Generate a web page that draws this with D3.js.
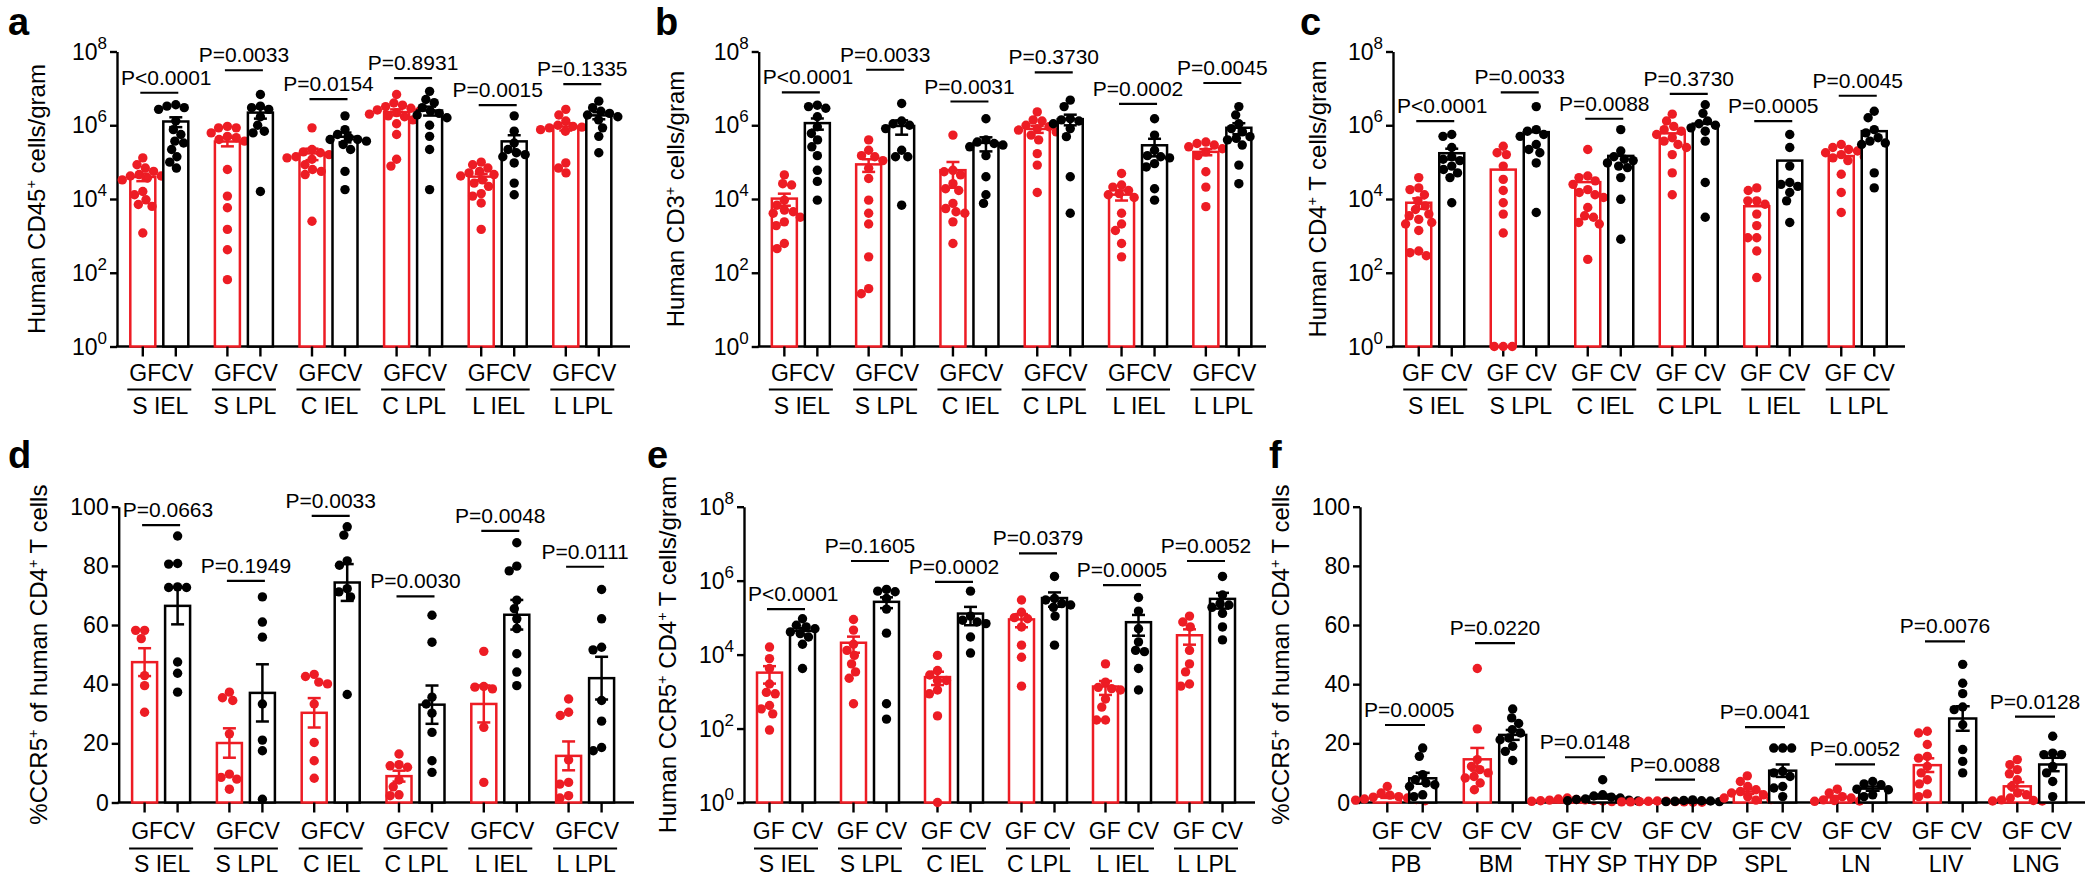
<!DOCTYPE html>
<html><head><meta charset="utf-8">
<script src="https://cdn.jsdelivr.net/npm/d3@7"></script>
<style>
body{margin:0;background:#fff}
svg{display:block}
text{font-family:Arial,"Liberation Sans",Helvetica,sans-serif;fill:#000}
</style>
</head><body>
<svg id="chart" width="2100" height="886"></svg>
<script>
// ---------------- DATA ----------------
const gutGroups = ["S IEL","S LPL","C IEL","C LPL","L IEL","L LPL"];
const tissueGroups = ["PB","BM","THY SP","THY DP","SPL","LN","LIV","LNG"];
const logTickExps = [0,2,4,6,8];
const pctTicks = [0,20,40,60,80,100];

// Panel a: Human CD45+ cells/gram
const aGF = [
  [1.3e5,8.5e4,6.9e4,5.6e4,4.6e4,4.2e4,4.2e4,3.7e4,3.3e4,1.6e4,1.3e4,9.5e3,7.1e3,6.3e3,1.2e3],
  [9.3e5,8.5e5,8.5e5,6.2e5,5.0e5,4.6e5,4.1e5,3.7e5,6.3e4,1.2e4,5.8e3,1.5e3,4.2e2,65],
  [8.5e5,2.2e5,1.9e5,1.8e5,1.6e5,1.4e5,1.3e5,1.2e5,8.5e4,6.3e4,5.6e4,4.6e4,2.5e3],
  [6.8e6,4.0e6,3.5e6,3.2e6,2.9e6,2.6e6,2.4e6,2.2e6,2.0e6,1.8e6,1.7e6,1.4e6,1.1e6,5.6e5,1.2e5,7.8e4],
  [1.0e5,8.5e4,6.9e4,5.6e4,5.1e4,4.6e4,4.2e4,3.3e4,2.7e4,2.2e4,1.4e4,1.2e4,7.8e3,1.5e3],
  [2.7e6,1.9e6,1.3e6,1.0e6,9.3e5,8.9e5,8.5e5,7.9e5,7.6e5,6.9e5,9.5e4,6.9e4,5.1e4]
];
const aCV = [
  [3.6e6,3.3e6,3.0e6,2.7e6,1.3e6,7.6e5,5.6e5,3.7e5,3.3e5,2.2e5,1.4e5,1.0e5,6.9e4],
  [6.8e6,3.3e6,3.0e6,2.7e6,1.7e6,1.0e6,6.9e5,6.2e5,1.6e4],
  [1.8e6,7.6e5,5.6e5,4.6e5,4.1e5,4.1e5,3.7e5,3.0e5,2.2e5,5.6e4,1.8e4],
  [8.3e6,5.0e6,4.1e6,3.0e6,2.4e6,2.1e6,1.9e6,1.6e6,1.0e6,5.0e5,2.2e5,1.8e4],
  [1.8e6,6.9e5,3.3e5,2.2e5,1.8e5,1.6e5,1.4e5,9.5e4,2.7e4,1.3e4],
  [4.5e6,3.0e6,2.4e6,2.1e6,1.9e6,1.7e6,1.4e6,8.5e5,5.0e5,1.8e5]
];
const aP = ["P<0.0001","P=0.0033","P=0.0154","P=0.8931","P=0.0015","P=0.1335"];
const aPLevel = [7.6e6,3.1e7,5.1e6,1.9e7,3.5e6,1.3e7];

// Panel b: Human CD3+ cells/gram
const bGF = [
  [4.5e4,2.6e4,2.4e4,9.3e3,6.8e3,5.0e3,4.5e3,4.1e3,3.2e3,2.4e3,1.9e3,6.2e2,4.5e2],
  [4.0e5,2.1e5,1.5e5,1.4e5,1.1e5,6.8e4,3.6e4,9.3e3,4.1e3,2.1e3,2.7e2,37,27],
  [5.4e5,6.0e4,5.5e4,4.5e4,2.6e4,1.9e4,1.7e4,7.6e3,5.5e3,4.5e3,4.1e3,2.4e3,6.2e2],
  [2.3e6,1.4e6,1.3e6,1.0e6,9.1e5,8.1e5,7.4e5,6.6e5,5.4e5,4.0e5,1.7e5,8.3e4,1.5e4],
  [4.9e4,2.4e4,2.1e4,1.7e4,1.4e4,1.3e4,1.1e4,4.1e3,2.1e3,1.4e3,6.2e2,2.7e2],
  [3.5e5,3.2e5,2.9e5,2.6e5,2.3e5,2.1e5,1.9e5,1.5e5,5.5e4,2.1e4,6.2e3]
];
const bCV = [
  [3.5e6,3.2e6,2.9e6,1.7e6,9.1e5,6.0e5,4.0e5,2.6e5,1.5e5,6.0e4,3.0e4,9.3e3],
  [3.9e6,1.3e6,1.1e6,1.0e6,8.1e5,2.1e5,1.4e5,1.4e5,6.8e3],
  [1.5e6,4.0e5,3.5e5,3.2e5,2.9e5,2.6e5,1.5e5,4.0e4,1.3e4,7.6e3],
  [4.8e6,3.2e6,1.5e6,1.4e6,1.3e6,1.1e6,8.1e5,4.9e5,4.0e4,4.1e3],
  [1.5e6,5.4e5,2.1e5,1.5e5,1.4e5,1.3e5,9.1e4,7.4e4,1.9e4,9.3e3],
  [3.2e6,1.9e6,1.1e6,8.1e5,6.6e5,4.9e5,4.4e5,4.0e5,2.9e5,8.3e4,2.6e4]
];
const bP = ["P<0.0001","P=0.0033","P=0.0031","P=0.3730","P=0.0002","P=0.0045"];
const bPLevel = [7.8e6,3.2e7,4.4e6,2.7e7,3.8e6,1.4e7];

// Panel c: Human CD4+ T cells/gram
const cGF = [
  [3.8e4,2.0e4,1.8e4,1.3e4,8.9e3,6.5e3,5.2e3,3.9e3,3.5e3,2.8e3,2.3e3,2.1e3,1.4e3,3.9e2,3.5e2,2.9e2],
  [2.7e5,1.8e5,1.6e5,7.8e4,3.4e4,1.7e4,7.9e3,3.9e3,1.2e3,0,0,0],
  [2.2e5,4.2e4,3.8e4,3.1e4,2.5e4,1.8e4,1.5e4,1.3e4,1.1e4,5.9e3,3.5e3,3.2e3,2.3e3,2.1e3,2.3e2],
  [2.0e6,1.3e6,9.3e5,7.6e5,6.9e5,5.6e5,4.6e5,3.7e5,3.0e5,2.5e5,1.6e5,5.1e4,1.3e4],
  [2.0e4,1.7e4,8.9e3,8.9e3,7.2e3,3.9e3,1.9e3,8.9e2,8.9e2,3.9e2,74],
  [3.0e5,2.5e5,2.2e5,2.0e5,1.8e5,1.6e5,1.4e5,1.3e5,1.1e5,4.7e4,1.5e4,4.3e3]
];
const cCV = [
  [5.6e5,5.0e5,2.5e5,1.4e5,1.2e5,1.1e5,7.8e4,6.3e4,5.1e4,3.8e4,7.9e3],
  [3.2e6,7.6e5,6.9e5,5.6e5,5.0e5,3.0e5,2.2e5,1.8e5,9.5e4,4.3e3],
  [7.6e5,2.0e5,1.4e5,1.2e5,1.1e5,9.5e4,7.8e4,7.1e4,3.8e4,9.8e3,8.1e2],
  [3.6e6,2.1e6,1.3e6,1.1e6,1.0e6,8.5e5,6.9e5,3.7e5,2.8e4,3.2e3],
  [5.6e5,2.5e5,7.8e4,2.8e4,2.5e4,2.2e4,1.5e4,8.9e3,2.3e3],
  [2.4e6,1.6e6,7.6e5,6.2e5,4.6e5,3.7e5,3.3e5,3.0e5,5.1e4,2.0e4]
];
const cP = ["P<0.0001","P=0.0033","P=0.0088","P=0.3730","P=0.0005","P=0.0045"];
const cPLevel = [1.3e6,7.8e6,1.5e6,7.1e6,1.3e6,6.3e6];
const cErrShown = [true,false,false,false,false,false];

// Panel d: %CCR5+ of human CD4+ T cells (gut)
const dGF = [
  [58.2,58.2,55.4,42.9,39.5,30.5],
  [37.3,35.4,34.5,23.2,9.6,8.5,7.9,4.5],
  [43.3,42.6,40.7,40.1,33.3,20.3,14.1,8.2],
  [16.4,12.8,12.4,11.9,7.6,5.3,2.6,2.3],
  [51.1,39.2,39.0,38.4,25.4,6.8],
  [35.0,30.5,29.4,14.4,6.8,6.2,2.3,1.5]
];
const dCV = [
  [90.1,80.8,80.6,72.9,72.7,72.7,47.5,43.7,37.3],
  [69.5,61.0,55.9,33.3,21.1,17.5,1.1],
  [93.2,90.4,81.7,80.2,72.3,71.2,69.5,36.5],
  [63.3,54.2,35.6,33.3,30.2,23.7,14.1,10.2],
  [87.8,79.9,78.3,68.4,65.5,62.1,58.8,50.3,44.1,39.5],
  [72.0,62.1,52.5,51.6,34.5,27.5,18.6,17.5]
];
const dP = ["P=0.0663","P=0.1949","P=0.0033","P=0.0030","P=0.0048","P=0.0111"];
const dPLevel = [93.8,74.9,96.9,69.7,91.8,79.7];

// Panel e: Human CCR5+ CD4+ T cells/gram
const eGF = [
  [1.6e4,7.8e3,4.2e3,1.6e3,9.5e2,8.7e2,4.2e2,3.4e2,2.5e2,91],
  [8.9e4,4.6e4,1.9e4,1.3e4,9.5e3,5.6e3,3.4e3,2.3e3,4.7e2],
  [9.5e3,3.7e3,2.8e3,2.0e3,2.0e3,1.1e3,8.7e2,2.2e2,0],
  [3.0e5,1.4e5,1.0e5,9.3e4,5.6e4,1.8e4,8.5e3,1.4e3],
  [5.6e3,1.8e3,1.3e3,1.2e3,1.1e3,6.3e2,3.8e2,1.7e2,1.7e2],
  [1.1e5,7.6e4,5.6e4,1.3e4,5.6e3,3.4e3,1.6e3,1.4e3]
];
const eCV = [
  [9.3e4,6.2e4,5.6e4,5.0e4,4.1e4,3.7e4,3.0e4,1.9e4,4.2e3],
  [5.8e5,5.2e5,5.0e5,3.3e5,1.7e5,3.8e4,4.7e2,1.8e2],
  [5.2e5,1.1e5,8.5e4,7.6e4,6.9e4,3.0e4,1.1e4],
  [1.3e6,3.3e5,3.0e5,2.4e5,2.2e5,1.9e5,1.1e5,1.8e4],
  [3.5e5,1.5e5,5.0e4,2.2e4,1.3e4,1.2e4,4.2e3,1.1e3],
  [1.3e6,4.1e5,2.4e5,2.2e5,1.9e5,1.3e5,5.6e4,2.5e4]
];
const eP = ["P<0.0001","P=0.1605","P=0.0002","P=0.0379","P=0.0005","P=0.0052"];
const ePLevel = [1.7e5,3.4e6,9.3e5,5.5e6,7.6e5,3.4e6];

// Panel f: %CCR5+ of human CD4+ T cells (tissues)
const fGF = [
  [5.4,3.2,2.5,2.0,1.8,1.5,1.2,1.0,0.8,0.6],
  [45.3,24.9,14.5,12.2,11.1,10.0,8.8,8.3,6.6,4.3],
  [1.5,1.2,1.0,0.9,0.8,0.7,0.6,0.5,0.4,0.3],
  [0.5,0.4,0.4,0.3,0.3,0.2,0.2,0.2,0.1,0.1],
  [9.0,7.1,5.4,4.3,3.7,3.2,2.6,2.0,1.5,1.0,0.8],
  [4.5,3.2,2.0,1.5,0.9,0.7,0.5,0.4],
  [24.1,23.5,19.6,15.6,15.0,12.2,10.0,7.7,6.3,2.9,2.0],
  [14.5,12.8,11.1,9.7,7.7,5.4,3.2,2.6,1.5,0.9,0.7,0.5,0.5]
];
const fCV = [
  [18.4,15.6,9.4,7.7,6.6,6.0,5.4,2.6,2.0],
  [31.6,28.6,26.7,24.6,23.5,21.8,21.2,19.0,17.3,14.2],
  [7.7,2.6,2.2,1.8,1.5,1.2,1.0,0.8,0.6,0.5],
  [0.9,0.7,0.6,0.5,0.4,0.3,0.3],
  [18.4,18.4,18.4,10.5,10.0,8.8,5.4,4.9,2.0],
  [7.1,6.3,6.0,4.5,4.3,2.6,2.0],
  [46.7,40.3,36.8,32.3,31.4,26.3,17.9,13.9,10.0],
  [22.4,16.7,16.2,16.2,12.2,10.0,7.1,2.0]
];
const fP = ["P=0.0005","P=0.0220","P=0.0148","P=0.0088","P=0.0041","P=0.0052","P=0.0076","P=0.0128"];
const fPLevel = [26.2,53.9,15.3,7.7,25.5,12.9,54.5,29.0];

// ---------------- DRAWING ----------------
const RED = "#ED1C24";
const svg = d3.select("#chart");

function beeswarm(vals, cx, yv, r) {
  const pts = vals.map(v => ({v, y: yv(v)})).sort((a, b) => a.y - b.y);
  const md = 2 * r * 0.95;
  const placed = [];
  pts.forEach(p => {
    const cands = [0];
    placed.forEach(q => {
      const dy = Math.abs(q.y - p.y);
      if (dy < md) {
        const dx = Math.sqrt(md * md - dy * dy) + 0.01;
        cands.push(q.x - cx + dx, q.x - cx - dx);
      }
    });
    cands.sort((a, b) => Math.abs(a) - Math.abs(b) || a - b);
    let chosen = 0;
    for (const c of cands) {
      const x = cx + c;
      if (placed.every(q => (q.x - x) ** 2 + (q.y - p.y) ** 2 >= md * md - 0.5)) { chosen = c; break; }
    }
    p.x = cx + chosen;
    placed.push(p);
  });
  return placed;
}

function addTitle(g, x, y, str, size) {
  const t = g.append("text").attr("transform", `translate(${x},${y}) rotate(-90)`)
    .attr("text-anchor", "middle").attr("font-size", size);
  const parts = str.split("^+");
  parts.forEach((s, i) => {
    t.append("tspan").attr("dy", i === 0 ? 0 : 9).text(s);
    if (i < parts.length - 1) t.append("tspan").attr("dy", -9).attr("font-size", size * 0.6).text("+");
  });
  return t;
}

function drawPanel(p) {
  const g = svg.append("g");
  const y = p.log
    ? d3.scaleLog().domain([1, 1e8]).range([p.yBottom, p.yTop])
    : d3.scaleLinear().domain([0, 100]).range([p.yBottom, p.yTop]);
  const yv = v => p.log ? y(Math.max(v, 1)) : y(v);
  const xg = d3.scaleBand().domain(p.groups)
    .range([p.axisX, p.axisX + p.groups.length * p.spacing]).padding(0);
  const xs = d3.scalePoint().domain(["GF", "CV"]).range([-p.pair, p.pair]);
  const cx = (grp, cond) => xg(grp) + xg.bandwidth() / 2 + xs(cond);
  const mid = grp => xg(grp) + xg.bandwidth() / 2;

  g.append("text").attr("x", p.letterX).attr("y", p.letterY)
    .attr("font-size", 38).attr("font-weight", "bold").text(p.letter);

  const yTickVals = p.log ? logTickExps.map(e => Math.pow(10, e)) : pctTicks;
  const ax = d3.axisLeft(y).tickValues(yTickVals).tickSize(7).tickSizeOuter(0).tickFormat("");
  const axG = g.append("g").attr("transform", `translate(${p.axisX},0)`).call(ax);
  axG.select(".domain").attr("stroke", "#000").attr("stroke-width", 2.4);
  axG.selectAll(".tick line").attr("stroke", "#000").attr("stroke-width", 2.4);

  yTickVals.forEach((v, i) => {
    const t = g.append("text").attr("x", p.axisX - 10).attr("y", y(v) + 8)
      .attr("text-anchor", "end").attr("font-size", 23);
    if (p.log) {
      t.append("tspan").text("10");
      t.append("tspan").attr("dy", -11).attr("font-size", 17).text(String(logTickExps[i]));
    } else {
      t.text(String(v));
    }
  });

  addTitle(g, p.titleX, (p.yTop + p.yBottom) / 2, p.title, 24);

  g.append("line").attr("x1", p.axisX - 1).attr("x2", p.axisEnd)
    .attr("y1", p.yBottom).attr("y2", p.yBottom).attr("stroke", "#000").attr("stroke-width", 2.4);

  const conds = [["GF", p.gf, RED], ["CV", p.cv, "#000"]];

  p.groups.forEach((grp, gi) => {
    conds.forEach(([cond, arr, col]) => {
      const vals = arr[gi];
      const c = cx(grp, cond);
      const m = d3.mean(vals);
      const se = d3.deviation(vals) / Math.sqrt(vals.length);
      const yTopBar = yv(m);
      g.append("rect").attr("x", c - p.barW / 2).attr("y", yTopBar)
        .attr("width", p.barW).attr("height", Math.max(0, p.yBottom - yTopBar))
        .attr("fill", "#fff").attr("stroke", col).attr("stroke-width", 2.5);
      g.append("line").attr("x1", c).attr("x2", c).attr("y1", p.yBottom).attr("y2", p.yBottom + 10)
        .attr("stroke", "#000").attr("stroke-width", 2.4);
      const pts = beeswarm(vals, c, yv, p.r);
      g.selectAll(null).data(pts).enter().append("circle")
        .attr("cx", d => d.x).attr("cy", d => d.y).attr("r", p.r).attr("fill", col);
      const show = p.errShown ? p.errShown[gi] : true;
      if (show) {
        const hi = yv(m + se), lo = yv(p.log ? Math.max(m - se, 1) : Math.max(m - se, 0));
        const eg = g.append("g").attr("stroke", col).attr("stroke-width", 2.5);
        eg.append("line").attr("x1", c).attr("x2", c).attr("y1", hi).attr("y2", lo);
        eg.append("line").attr("x1", c - p.cap).attr("x2", c + p.cap).attr("y1", hi).attr("y2", hi);
        eg.append("line").attr("x1", c - p.cap).attr("x2", c + p.cap).attr("y1", lo).attr("y2", lo);
      }
    });

    const ly = yv(p.pLevel[gi]);
    const mx = mid(grp);
    g.append("line").attr("x1", mx - p.lineHalf).attr("x2", mx + p.lineHalf)
      .attr("y1", ly).attr("y2", ly).attr("stroke", "#000").attr("stroke-width", 2.2);
    const pt = g.append("text").attr("x", mx).attr("y", ly - 8).attr("text-anchor", "middle")
      .attr("font-size", 21).text(p.pLabels[gi]);
    const w = pt.node().getComputedTextLength();
    if (mx - w / 2 < p.axisX + 4) pt.attr("x", p.axisX + 4 + w / 2);

    g.append("text").attr("x", mx + 2).attr("y", p.yBottom + p.lab1)
      .attr("text-anchor", "middle").attr("font-size", 23).text(p.gfcv);
    g.append("line").attr("x1", mx - p.ulHalf).attr("x2", mx + p.ulHalf)
      .attr("y1", p.yBottom + p.lab2).attr("y2", p.yBottom + p.lab2)
      .attr("stroke", "#000").attr("stroke-width", 2);
    g.append("text").attr("x", mx + 1).attr("y", p.yBottom + p.lab3)
      .attr("text-anchor", "middle").attr("font-size", 23).text(grp);
  });
}

const rowTop = {yTop: 51.5, yBottom: 346.5, lab1: 34, lab2: 43, lab3: 67, letterY: 35};
const rowBot = {yTop: 506.7, yBottom: 802.5, lab1: 36, lab2: 46, lab3: 69, letterY: 468};
const gutStyle = {groups: gutGroups, pair: 16.5, barW: 25, r: 4.7, cap: 6.5, lineHalf: 19, ulHalf: 32};

drawPanel({...rowTop, ...gutStyle, letter: "a", letterX: 8, log: true, axisX: 117, axisEnd: 630, spacing: 84.6,
  titleX: 45, title: "Human CD45^+ cells/gram", gf: aGF, cv: aCV, pLabels: aP, pLevel: aPLevel, gfcv: "GFCV"});
drawPanel({...rowTop, ...gutStyle, letter: "b", letterX: 655, log: true, axisX: 758.7, axisEnd: 1266, spacing: 84.3,
  titleX: 684, title: "Human CD3^+ cells/gram", gf: bGF, cv: bCV, pLabels: bP, pLevel: bPLevel, gfcv: "GFCV"});
drawPanel({...rowTop, ...gutStyle, letter: "c", letterX: 1300, log: true, axisX: 1393, axisEnd: 1905, spacing: 84.5,
  titleX: 1326, title: "Human CD4^+ T cells/gram", gf: cGF, cv: cCV, pLabels: cP, pLevel: cPLevel, gfcv: "GF CV",
  errShown: cErrShown});
drawPanel({...rowBot, ...gutStyle, letter: "d", letterX: 8, log: false, axisX: 118.7, axisEnd: 634, spacing: 84.8,
  titleX: 47, title: "%CCR5^+ of human CD4^+ T cells", gf: dGF, cv: dCV, pLabels: dP, pLevel: dPLevel, gfcv: "GFCV"});
drawPanel({...rowBot, ...gutStyle, letter: "e", letterX: 647, log: true, axisX: 744, axisEnd: 1255, spacing: 84,
  titleX: 676, title: "Human CCR5^+ CD4^+ T cells/gram", gf: eGF, cv: eCV, pLabels: eP, pLevel: ePLevel, gfcv: "GF CV"});
drawPanel({...rowBot, groups: tissueGroups, pair: 17.7, barW: 27, r: 4.7, cap: 7, lineHalf: 20, ulHalf: 26,
  letter: "f", letterX: 1269, log: false, axisX: 1360, axisEnd: 2085, spacing: 90,
  titleX: 1289, title: "%CCR5^+ of human CD4^+ T cells", gf: fGF, cv: fCV, pLabels: fP, pLevel: fPLevel, gfcv: "GF CV"});
</script>
</body></html>
